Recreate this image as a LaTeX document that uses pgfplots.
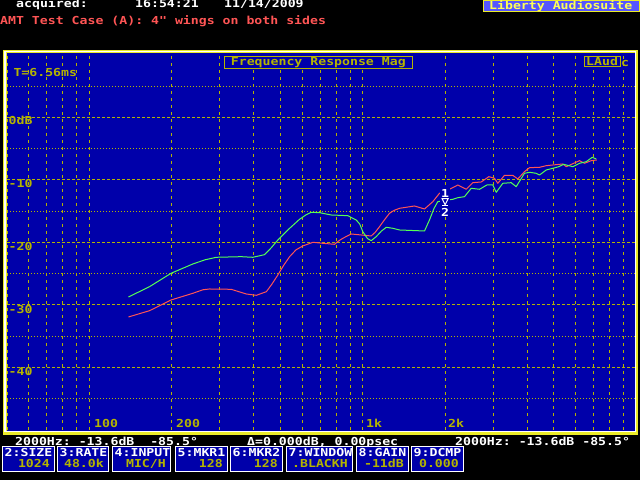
\documentclass[border=0pt]{standalone}
\usepackage{pgfplots}
\pgfplotsset{compat=1.18}
\usepackage{fontspec}
\setmainfont{DejaVu Sans Mono}
\newfontfamily\pixfont{DejaVu Sans Mono}[FakeStretch=1.2]
\newcommand\px{\pixfont\bfseries\fontsize{11}{11}\selectfont}
\definecolor{bg}{RGB}{0,0,170}
\definecolor{gridyel}{RGB}{180,180,0}
\definecolor{frameyel}{RGB}{235,235,40}
\definecolor{lyel}{RGB}{255,255,85}
\definecolor{lblue}{RGB}{85,85,255}
\definecolor{tred}{RGB}{255,85,85}
\definecolor{tgreen}{RGB}{85,255,85}
\newcommand\btn[4]{%
  \filldraw[fill=bg, draw=white, line width=1pt] (#1+0.5,9) rectangle (#2-0.5,33.3);
  \node[white] at (#1+2.5,23.5) {#3};
  \node[gridyel, anchor=base east] at (#2-5,12.3) {#4};
}
\pgfplotstableread{
f db
139 -31.95
166 -30.94
199 -29.23
239 -28.16
260 -27.60
275 -27.47
330 -27.52
375 -28.27
408 -28.48
444 -27.90
465 -26.70
489 -25.23
515 -23.60
540 -22.30
570 -21.20
603 -20.59
657 -20.00
714 -20.16
788 -20.32
815 -19.80
845 -19.36
907 -18.67
987 -18.83
1073 -18.99
1110 -18.40
1151 -17.50
1200 -16.40
1252 -15.36
1300 -14.90
1362 -14.56
1545 -14.19
1681 -14.67
1803 -13.50
1907 -12.16
2075 -11.52
2226 -10.83
2388 -11.52
2525 -10.46
2710 -10.35
2889 -9.50
3030 -9.76
3116 -10.56
3297 -9.28
3535 -9.28
3687 -9.87
3901 -8.70
4070 -8.06
4427 -8.00
4684 -7.74
4952 -7.63
5387 -7.47
5543 -7.90
6200 -6.94
6465 -7.36
6839 -6.94
7172 -6.83
}\redtrace
\pgfplotstableread{
f db
139 -28.75
166 -27.10
199 -24.96
239 -23.47
265 -22.80
291 -22.40
359 -22.30
396 -22.40
437 -21.98
462 -20.90
489 -19.63
540 -17.76
587 -16.32
620 -15.60
648 -15.20
695 -15.26
766 -15.63
881 -15.74
946 -16.43
975 -17.10
1000 -18.30
1040 -19.40
1073 -19.74
1119 -19.10
1170 -18.20
1218 -17.60
1288 -17.76
1362 -18.03
1681 -18.19
1753 -16.43
1820 -14.60
1880 -13.50
1961 -13.34
2134 -13.12
2226 -12.86
2354 -12.70
2491 -11.36
2672 -11.52
2841 -10.83
2988 -10.83
3075 -12.00
3250 -10.56
3488 -10.46
3638 -11.10
3901 -8.96
4070 -8.80
4305 -8.96
4427 -9.23
4684 -8.43
4952 -8.16
5209 -7.90
5419 -7.52
5861 -7.90
6200 -7.36
6560 -7.10
6900 -6.40
7136 -6.67
}\greentrace
\begin{document}
\begin{tikzpicture}[x=1pt,y=1pt]
\fill[black] (0,0) rectangle (640,480);
\path[use as bounding box] (0,0) rectangle (640,480);
% frame
\fill[frameyel] (3.3,45) rectangle (638,430);
\fill[white] (4.3,48) rectangle (635.7,429);
\fill[frameyel] (5.7,49) rectangle (634.5,428);
\fill[bg] (6.7,49) rectangle (634.5,427);
\begin{axis}[at={(7pt,50.2pt)}, anchor=south west, scale only axis,
  width=629.3pt, height=375pt,
  xmode=log, xmin=50, xmax=10000, ymin=-50, ymax=10,
  axis line style={draw=none}, major tick length=0pt, minor tick length=0pt,
  xtick={50,60,70,80,90,100,200,300,400,500,600,700,800,900,1000,2000,3000,4000,5000,6000,7000,8000,9000},
  xticklabels={}, yticklabels={},
  ytick={-40,-30,-20,-10,0},
  minor ytick={-45,-35,-25,-15,-5,5},
  xmajorgrids=true, xminorgrids=false, ymajorgrids=true, yminorgrids=true,
  major x grid style={gridyel, line width=1pt, dash pattern=on 3pt off 4pt},
  major y grid style={gridyel, line width=1pt, dash pattern=on 3pt off 2pt},
  minor y grid style={gridyel, line width=1pt, dash pattern=on 1pt off 2pt},
  clip=false]
\addplot[tred, line width=1pt, line join=round, mark=none] table[x=f, y=db] {\redtrace};
\addplot[tgreen, line width=1pt, line join=round, mark=none] table[x=f, y=db] {\greentrace};
\node[fill=bg, inner sep=0, minimum width=10pt, minimum height=29pt] at (axis cs:2000,-13.5) {};
\node[white, font=\px, inner sep=0] at ([yshift=8.5pt]axis cs:2000,-13.5) {1};
\draw[white, line width=1pt] ([shift={(-3pt,3pt)}]axis cs:2000,-13.5) -- ([shift={(3pt,3pt)}]axis cs:2000,-13.5) -- ([shift={(0pt,-3pt)}]axis cs:2000,-13.5) -- cycle;
\draw[white, line width=1pt] ([shift={(-3pt,-4pt)}]axis cs:2000,-13.5) -- ([shift={(3pt,-4pt)}]axis cs:2000,-13.5);
\node[white, font=\px, inner sep=0] at ([yshift=-10.5pt]axis cs:2000,-13.5) {2};
\end{axis}
\begin{scope}[every node/.style={font=\px, inner sep=0, anchor=base west}]
% header
\node[white] at (16,472) {acquired:};
\node[white] at (135,472) {16:54:21};
\node[white] at (224,472) {11/14/2009};
\fill[lblue] (483.5,468) rectangle (639.5,479.5);
\draw[frameyel, line width=1pt] (483.5,468) rectangle (639.5,479.5);
\node[lyel] at (489,470.5) {Liberty Audiosuite};
\node[tred] at (0,455.5) {AMT Test Case (A): 4" wings on both sides};
% plot texts
\node[gridyel] at (13.3,403.3) {T=6.56ms};
\filldraw[fill=bg, draw=gridyel, line width=1pt] (224,411.3) rectangle (412.7,423.3);
\node[gridyel] at (230.7,414) {Frequency Response Mag};
\filldraw[fill=bg, draw=gridyel, line width=1pt] (584,413.3) rectangle (620,423.3);
\node[gridyel] at (586,414.3) {LAud};
\node[gridyel] at (621,413.3) {c};
\node[gridyel] at (8.5,355) {0dB};
\node[gridyel] at (8.5,292) {-10};
\node[gridyel] at (8.5,229.7) {-20};
\node[gridyel] at (8.5,167) {-30};
\node[gridyel] at (8.5,104.7) {-40};
\node[gridyel] at (94,52.5) {100};
\node[gridyel] at (176,52.5) {200};
\node[gridyel] at (366,52.5) {1k};
\node[gridyel] at (448,52.5) {2k};
% status line
\node[white] at (15,35) {2000Hz:\ -13.6dB\ \ -85.5°};
\node[white] at (247,35) {Δ=0.000dB,\ 0.00psec};
\node[white] at (455,35) {2000Hz:\ -13.6dB\ -85.5°};
% buttons
\btn{2}{55}{2:SIZE}{1024}
\btn{57}{109}{3:RATE}{48.0k}
\btn{112}{171}{4:INPUT}{MIC/H}
\btn{175}{228}{5:MKR1}{128}
\btn{230}{283}{6:MKR2}{128}
\btn{286}{353}{7:WINDOW}{.BLACKH}
\btn{356}{409}{8:GAIN}{-11dB}
\btn{411}{464}{9:DCMP}{0.000}
\end{scope}
\end{tikzpicture}
\end{document}
